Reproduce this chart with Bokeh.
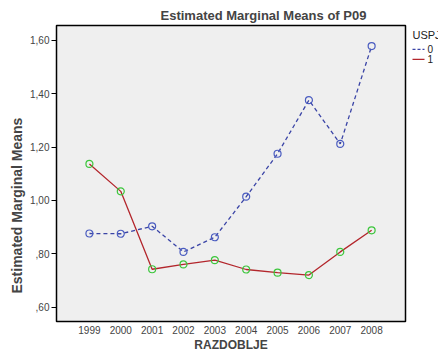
from bokeh.plotting import figure
from bokeh.models import FixedTicker, Range1d, Title
from bokeh.layouts import row
from bokeh.core.properties import value
from bokeh.embed import file_html
from bokeh.resources import INLINE

years = [1999, 2000, 2001, 2002, 2003, 2004, 2005, 2006, 2007, 2008]
usp0 = [0.876, 0.875, 0.903, 0.807, 0.862, 1.014, 1.175, 1.376, 1.212, 1.579]
usp1 = [1.137, 1.034, 0.742, 0.760, 0.776, 0.741, 0.729, 0.720, 0.807, 0.888]
y_ticks = [0.6, 0.8, 1.0, 1.2, 1.4, 1.6]
y_tick_labels = [",60", ",80", "1,00", "1,20", "1,40", "1,60"]
series_names = ["0", "1"]
legend_title = "USPJ"

FONT = "Liberation Sans"
C0_LINE, C0_MARK = "#3a44a6", "#4a5cc0"
C1_LINE, C1_MARK = "#b3262c", "#3cc63c"

p = figure(width=408, height=354, output_backend="svg", toolbar_location=None,
           x_range=Range1d(1997.95, 2009.08), y_range=Range1d(0.546, 1.656),
           min_border_left=56, min_border_right=3, min_border_top=25, min_border_bottom=32,
           background_fill_color="#efefef", border_fill_color="white")

p.title.text = "Estimated Marginal Means of P09"
p.title.text_font = FONT
p.title.text_font_size = "13px"
p.title.text_font_style = "bold"
p.title.align = "left"
p.title.offset = 104
p.title.standoff = 6

p.outline_line_color = "black"
p.outline_line_width = 1.5
p.xgrid.visible = False
p.ygrid.visible = False

xa = p.xaxis[0]
xa.ticker = FixedTicker(ticks=years)
xa.major_tick_line_color = None
xa.major_tick_out = 0
xa.major_tick_in = 0
xa.minor_tick_line_color = None
xa.minor_tick_out = 0
xa.axis_line_color = "black"
xa.major_label_text_font = FONT
xa.major_label_text_font_size = "10px"
xa.major_label_standoff = 4
xa.axis_label = "RAZDOBLJE"
xa.axis_label_text_font = FONT
xa.axis_label_text_font_size = "12px"
xa.axis_label_text_font_style = "bold"
xa.axis_label_standoff = 1

ya = p.yaxis[0]
ya.ticker = FixedTicker(ticks=y_ticks)
ya.major_label_overrides = {t: l for t, l in zip(y_ticks, y_tick_labels)}
ya.major_tick_in = 0
ya.major_tick_out = 5
ya.minor_tick_line_color = None
ya.axis_line_color = "black"
ya.major_label_text_font = FONT
ya.major_label_text_font_size = "10px"
ya.major_label_standoff = 2

ylab = Title(text="Estimated Marginal Means", text_font=FONT, text_font_size="14px",
             text_font_style="bold", align="left", offset=28, standoff=6)
p.add_layout(ylab, "left")

p.line(years, usp0, line_color=C0_LINE, line_width=1.3, line_dash="4 3")
p.scatter(years, usp0, marker="circle", size=7, fill_color=None, line_color=C0_MARK, line_width=1.2)
p.line(years, usp1, line_color=C1_LINE, line_width=1.3)
p.scatter(years, usp1, marker="circle", size=7, fill_color=None, line_color=C1_MARK, line_width=1.2)

# legend panel: its frame is aligned with the main frame (canvas y 25..322),
# so the range is expressed in canvas pixels from the top.
lg = figure(width=30, height=354, output_backend="svg", toolbar_location=None, title=None,
            x_range=Range1d(0, 30), y_range=Range1d(322, 25),
            min_border=0, outline_line_color=None, border_fill_color="white",
            background_fill_color="white")
lg.axis.visible = False
lg.grid.visible = False
lg.text(x=[4], y=[35], text=[legend_title], text_font=value(FONT), text_font_size="11px",
        text_baseline="middle", text_align="left", text_color="#222222")
lg.line(x=[4, 16], y=[49, 49], line_color=C0_LINE, line_width=1.3, line_dash="3 2")
lg.line(x=[4, 16], y=[59, 59], line_color=C1_LINE, line_width=1.3)
lg.text(x=[19, 19], y=[49, 59], text=series_names, text_font=value(FONT), text_font_size="10px",
        text_baseline="middle", text_align="left", text_color="#222222")

layout = row(p, lg, spacing=0)
open("out.html", "w").write(file_html(layout, INLINE))
